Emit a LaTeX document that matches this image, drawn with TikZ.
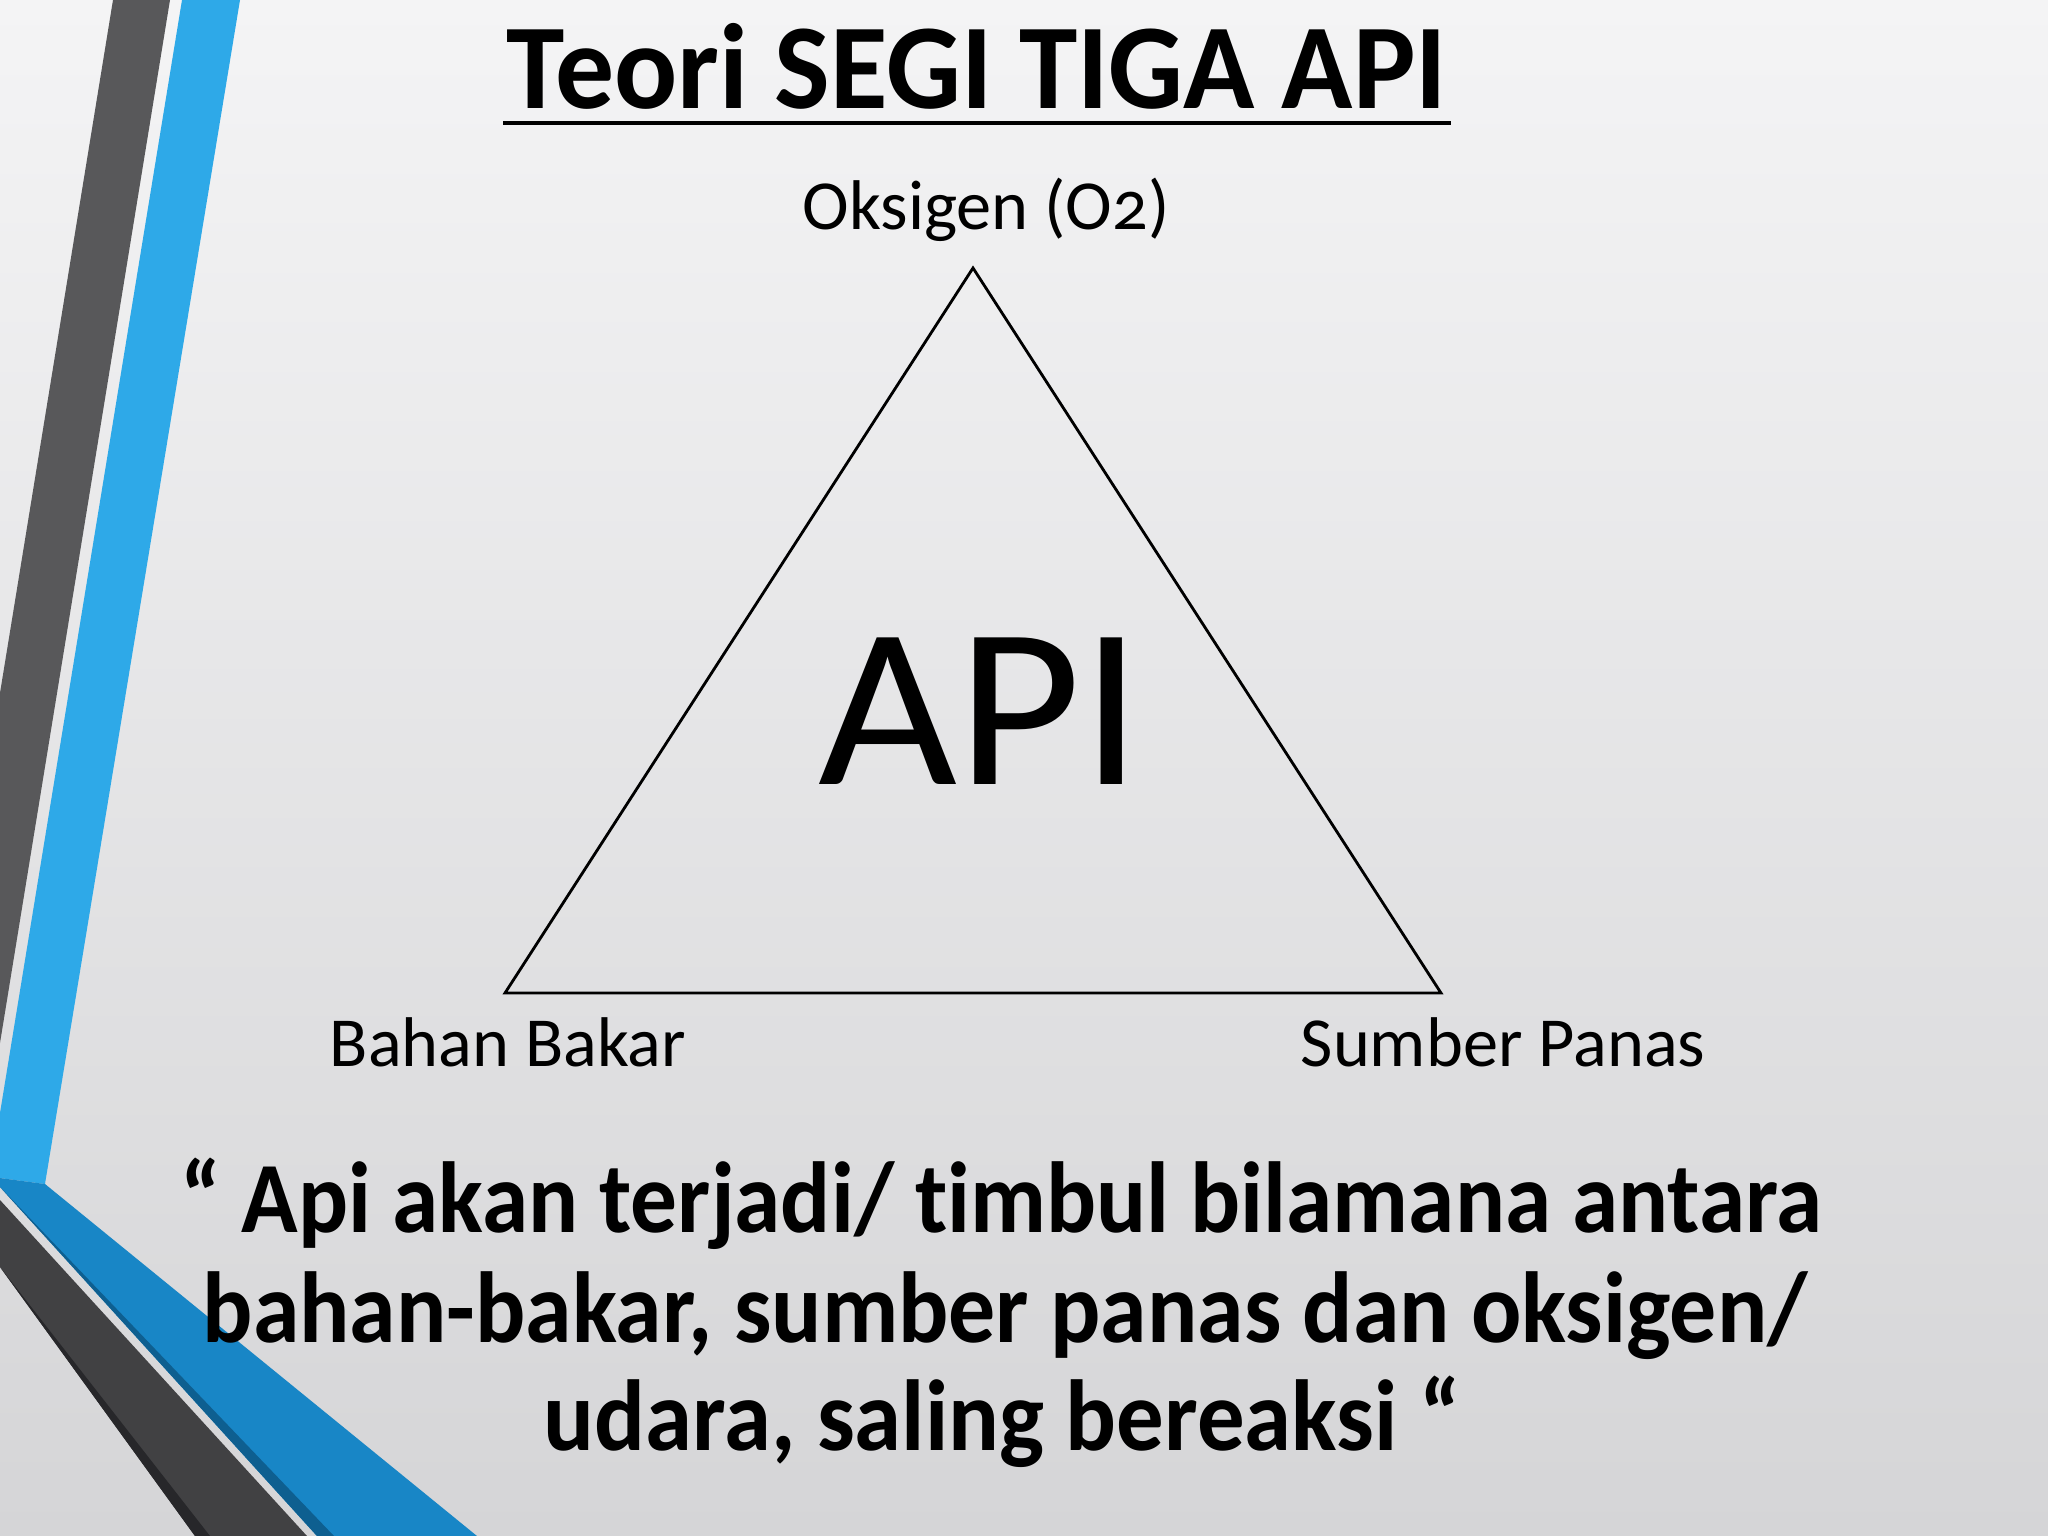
\documentclass[tikz,border=0pt]{standalone}
\usepackage{fontspec}
\setmainfont{Carlito}[Ligatures={TeXOff,NoCommon}]
\usetikzlibrary{calc}
\definecolor{bgtop}{HTML}{F4F4F5}
\definecolor{bgbot}{HTML}{D5D5D7}
\definecolor{stripegray}{HTML}{58585A}
\definecolor{stripeblue}{HTML}{2EA9E8}
\definecolor{bandblue}{HTML}{1886C6}
\definecolor{bandshade}{HTML}{0E5F90}
\definecolor{bandgray}{HTML}{414143}
\definecolor{bandgrayshade}{HTML}{27272A}
\begin{document}
\begin{tikzpicture}[x=0.01cm,y=-0.01cm,
    heading/.style={inner sep=0pt,anchor=base,font=\fontsize{34.5}{38}\selectfont\bfseries},
    corner/.style={inner sep=0pt,anchor=base,font=\fontsize{20}{24}\selectfont},
    fire/.style={inner sep=0pt,anchor=base,font=\fontsize{65}{70}\selectfont},
    quoteline/.style={inner sep=0pt,anchor=base,font=\fontsize{28.7}{31}\selectfont\bfseries}]
        \useasboundingbox (0,0) rectangle (2048,1536);
        \shade[top color=bgtop,bottom color=bgbot] (0,0) rectangle (2048,1536);
        \fill[stripegray] (113,0)--(170,0)--(0,1043)--(0,693)--cycle;
        \fill[stripeblue] (182,0)--(240,0)--(45,1184)--(0,1178)--(0,1113)--cycle;
        \fill[bandblue] (0,1178)--(45,1184)--(477,1536)--(317,1536)--(0,1187)--cycle;
        \fill[bandshade] (0,1187)--(317,1536)--(334,1536)--cycle;
        \fill[bandgray] (0,1200)--(307,1536)--(195,1536)--(0,1267)--cycle;
        \fill[bandgrayshade] (0,1267)--(195,1536)--(210,1536)--cycle;
        \node[heading] (title) at (977,108) {\scalebox{0.97}[1]{Teori SEGI TIGA API}};
        \draw[line width=1.1pt] ($(title.base west)+(-3,15)$) -- ($(title.base east)+(3,15)$);
        \coordinate (top) at (973,268);
        \coordinate (left) at (505,993);
        \coordinate (right) at (1441,993);
        \draw[line width=0.8pt] (top) -- (right) -- (left) -- cycle;
        \node[corner] (oksigen) at (986,229) {Oksigen (O{\addfontfeatures{Numbers=OldStyle}2})};
        \node[corner] (bahan) at (508,1066) {Bahan Bakar};
        \node[corner] (sumber) at (1503,1066) {Sumber Panas};
        \node[fire] (api) at (980,784) {\scalebox{1.05}[1]{API}};
        \node[quoteline] (quoteA) at (1001,1232) {\scalebox{0.925}[1]{“ Api akan terjadi/ timbul bilamana antara}};
        \node[quoteline] (quoteB) at (1005,1342) {\scalebox{0.93}[1]{bahan-bakar, sumber panas dan oksigen/}};
        \node[quoteline] (quoteC) at (1002,1450) {\scalebox{0.94}[1]{udara, saling bereaksi “}};
\end{tikzpicture}
\end{document}
